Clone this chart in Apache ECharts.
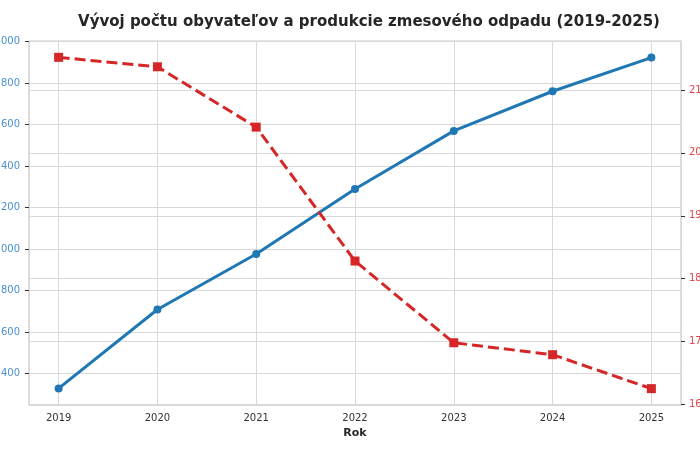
<!DOCTYPE html>
<html>
<head>
<meta charset="utf-8">
<script src="https://cdn.jsdelivr.net/npm/echarts@6/dist/echarts.min.js"></script>
<style>
  html, body { margin: 0; padding: 0; background: #fff; }
  #chart { width: 700px; height: 450px; }
</style>
</head>
<body>
<div id="chart"></div>
<script>
// roky a hodnoty
const years = [2019, 2020, 2021, 2022, 2023, 2024, 2025];
const population = [12329, 12709, 12976, 13289, 13569, 13760, 13922];
const waste = [2152, 2137, 2041, 1828, 1698, 1679, 1625];

const blue = '#1f77b4';
const red = '#d62728';
const font = 'DejaVu Sans';

const chart = echarts.init(document.getElementById('chart'));

const option = {
  backgroundColor: '#fff',
  animation: false,
  title: {
    text: 'Vývoj počtu obyvateľov a produkcie zmesového odpadu (2019-2025)',
    left: 364,
    textAlign: 'center',
    top: 10,
    textStyle: { fontFamily: font, fontSize: 15, fontWeight: 'bold', color: '#262626' }
  },
  grid: {
    left: 29, right: 19, top: 41, bottom: 45,
    show: true, borderColor: '#cccccc', borderWidth: 1.25,
    containLabel: false,
    outerBoundsMode: 'none'
  },
  xAxis: {
    type: 'value',
    min: 2018.7,
    max: 2025.3,
    splitNumber: 6,
    name: 'Rok',
    nameLocation: 'middle',
    nameGap: 21,
    nameTextStyle: { fontFamily: font, fontSize: 11, fontWeight: 'bold', color: '#262626' },
    axisLine: { show: false },
    axisTick: { show: false },
    axisLabel: {
      fontFamily: font, fontSize: 10, color: '#333', margin: 8,
      showMinLabel: false, showMaxLabel: false,
      formatter: v => String(v)
    },
    splitLine: { show: true, lineStyle: { color: '#d9d9d9', width: 1 } }
  },
  yAxis: [
    {
      type: 'value',
      position: 'left',
      min: 12249,
      max: 14002,
      splitNumber: 9,
      axisLine: { show: false },
      axisTick: { show: true, length: 4, lineStyle: { color: '#333', width: 1 } },
      axisLabel: {
        fontFamily: font, fontSize: 10, color: '#4a8fcf', margin: 9,
        showMinLabel: false, showMaxLabel: false,
        formatter: v => String(v)
      },
      splitLine: { show: true, lineStyle: { color: '#d9d9d9', width: 1 } }
    },
    {
      type: 'value',
      position: 'right',
      min: 1599,
      max: 2178,
      splitNumber: 6,
      axisLine: { show: false },
      axisTick: { show: true, length: 4, lineStyle: { color: '#333', width: 1 } },
      axisLabel: {
        fontFamily: font, fontSize: 10, color: '#e0454a', margin: 8,
        showMinLabel: false, showMaxLabel: false,
        formatter: v => String(v)
      },
      splitLine: { show: true, lineStyle: { color: '#d9d9d9', width: 1 } }
    }
  ],
  series: [
    {
      name: 'Počet obyvateľov',
      type: 'line',
      yAxisIndex: 0,
      data: years.map((y, i) => [y, population[i]]),
      symbol: 'circle',
      symbolSize: 8,
      lineStyle: { color: blue, width: 3 },
      itemStyle: { color: blue },
      z: 3
    },
    {
      name: 'Zmesový odpad',
      type: 'line',
      yAxisIndex: 1,
      data: years.map((y, i) => [y, waste[i]]),
      symbol: 'rect',
      symbolSize: 9,
      lineStyle: { color: red, width: 3, type: [11, 5] },
      itemStyle: { color: red },
      z: 4
    }
  ]
};

chart.setOption(option);
</script>
</body>
</html>
